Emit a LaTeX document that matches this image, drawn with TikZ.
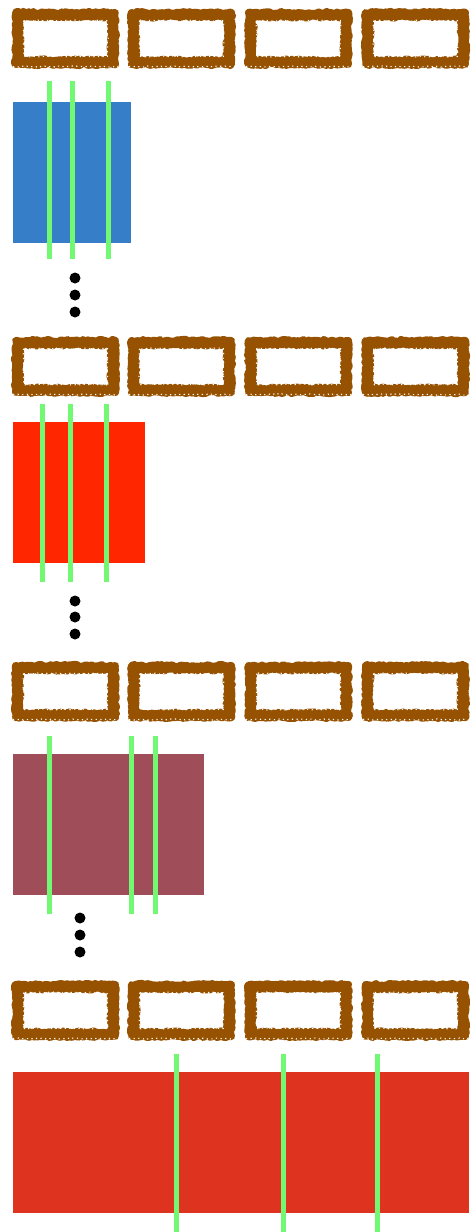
\documentclass[tikz,border=0pt]{standalone}
\usetikzlibrary{decorations.pathmorphing}
\definecolor{brownframe}{RGB}{150,82,0}
\definecolor{bluebox}{RGB}{55,126,200}
\definecolor{redbox}{RGB}{255,38,0}
\definecolor{maroonbox}{RGB}{160,77,90}
\definecolor{bigred}{RGB}{222,51,30}
\definecolor{greenline}{RGB}{114,248,114}
\tikzset{
  roughband/.style={draw=brownframe, line width=7, line join=round,
    decorate, decoration={random steps, segment length=2pt, amplitude=1.1pt}},
  speck/.style={draw=white, line width=1.1, dash pattern=on 1.2pt off 3.5pt,
    decorate, decoration={random steps, segment length=2pt, amplitude=0.6pt}},
  block/.style={inner sep=0pt, outer sep=0pt},
  marker/.style={draw=greenline, line width=5},
  dotmark/.style={fill=black, circle, inner sep=0pt, minimum size=11}
}
\newcommand{\roughbox}[2]{%
  \path[roughband] (#1+3.5,#2+3.5) rectangle (#1+103.5,#2+55.5);
  \path[roughband] (#1+8,#2+8) rectangle (#1+99,#2+51);
  \path[speck] (#1+11.6,#2+11.6) rectangle (#1+95.4,#2+47.4);
  \path[speck] (#1+1,#2+57.5) -- (#1+106,#2+57.5);
}
\begin{document}
\begin{tikzpicture}[x=1pt,y=-1pt]
\pgfmathsetseed{7}
\useasboundingbox (0,0) rectangle (471,1232);
% frame rows
\foreach \r in {9,337,662,981}{
  \foreach \c in {12,128,245,362}{
    \roughbox{\c}{\r}
  }
}
% row 1
\fill[bluebox] (13,102) rectangle (131,243);
\coordinate (g1a) at (49,81);  \coordinate (g1b) at (49,259);
\coordinate (g2a) at (72,81);  \coordinate (g2b) at (72,259);
\coordinate (g3a) at (108,81); \coordinate (g3b) at (108,259);
\draw[marker] (g1a) -- (g1b);
\draw[marker] (g2a) -- (g2b);
\draw[marker] (g3a) -- (g3b);
\node[dotmark] (d1a) at (75,278) {};
\node[dotmark] (d1b) at (75,295) {};
\node[dotmark] (d1c) at (75,312) {};
% row 2
\fill[redbox] (13,422) rectangle (145,563);
\coordinate (h1a) at (42,404);  \coordinate (h1b) at (42,582);
\coordinate (h2a) at (70,404);  \coordinate (h2b) at (70,582);
\coordinate (h3a) at (106,404); \coordinate (h3b) at (106,582);
\draw[marker] (h1a) -- (h1b);
\draw[marker] (h2a) -- (h2b);
\draw[marker] (h3a) -- (h3b);
\node[dotmark] (d2a) at (75,601) {};
\node[dotmark] (d2b) at (75,617) {};
\node[dotmark] (d2c) at (75,634) {};
% row 3
\fill[maroonbox] (13,754) rectangle (204,895);
\coordinate (k1a) at (49,736);  \coordinate (k1b) at (49,914);
\coordinate (k2a) at (131,736); \coordinate (k2b) at (131,914);
\coordinate (k3a) at (155,736); \coordinate (k3b) at (155,914);
\draw[marker] (k1a) -- (k1b);
\draw[marker] (k2a) -- (k2b);
\draw[marker] (k3a) -- (k3b);
\node[dotmark] (d3a) at (80,918) {};
\node[dotmark] (d3b) at (80,935) {};
\node[dotmark] (d3c) at (80,952) {};
% row 4
\fill[bigred] (13,1072) rectangle (469,1213);
\coordinate (m1a) at (176,1054); \coordinate (m1b) at (176,1232);
\coordinate (m2a) at (283,1054); \coordinate (m2b) at (283,1232);
\coordinate (m3a) at (377,1054); \coordinate (m3b) at (377,1232);
\draw[marker] (m1a) -- (m1b);
\draw[marker] (m2a) -- (m2b);
\draw[marker] (m3a) -- (m3b);
\end{tikzpicture}
\end{document}
